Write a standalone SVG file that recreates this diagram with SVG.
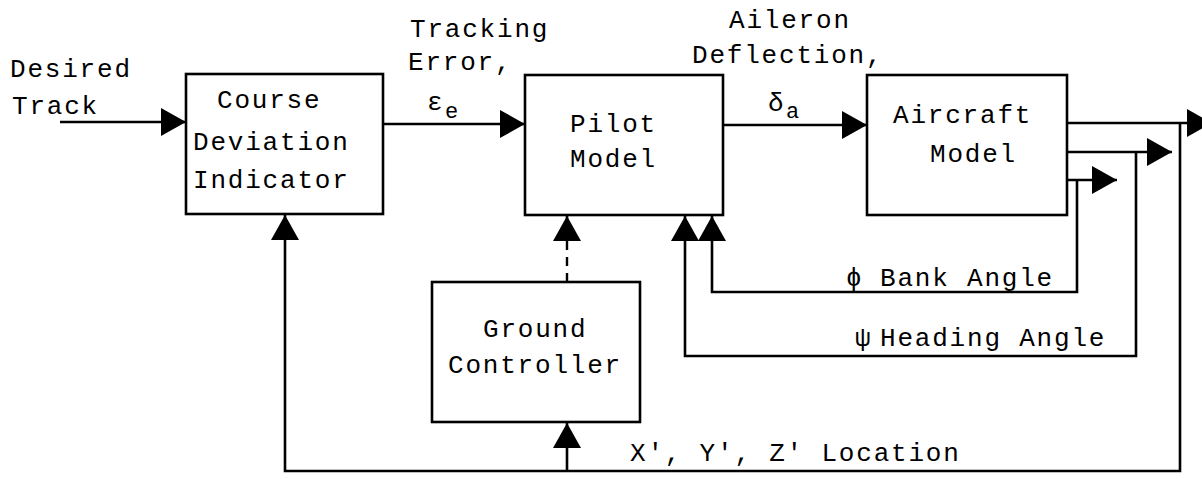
<svg xmlns="http://www.w3.org/2000/svg" width="1202" height="479" viewBox="0 0 1202 479">
<style>
.box{fill:#fff;stroke:#000;stroke-width:2.6}
.ln{fill:none;stroke:#000;stroke-width:2.6}
.dash{fill:none;stroke:#000;stroke-width:2.4;stroke-dasharray:9 7}
text{font-family:"Liberation Mono","DejaVu Sans Mono",monospace;font-size:26px;letter-spacing:1.8px;fill:#000}
.sub{font-size:22px;letter-spacing:0}
</style>
<defs>
<marker id="ah" viewBox="0 0 25 28" refX="25" refY="14" markerWidth="25" markerHeight="28" markerUnits="userSpaceOnUse" orient="auto">
<path d="M0,0 L25,14 L0,28 Z" fill="#000"/>
</marker>
</defs>
<g id="connectors">
<line class="ln" x1="60" y1="122" x2="186" y2="122" marker-end="url(#ah)"/>
<line class="ln" x1="383" y1="124" x2="525" y2="124" marker-end="url(#ah)"/>
<line class="ln" x1="723" y1="125" x2="867" y2="125" marker-end="url(#ah)"/>
<line class="ln" x1="1067" y1="123" x2="1212" y2="123" marker-end="url(#ah)"/>
<line class="ln" x1="1067" y1="152" x2="1172" y2="152" marker-end="url(#ah)"/>
<line class="ln" x1="1067" y1="180" x2="1117" y2="180" marker-end="url(#ah)"/>
<polyline class="ln" points="1077,180 1077,292 712,292 712,216" marker-end="url(#ah)"/>
<polyline class="ln" points="1136,152 1136,356 685,356 685,216" marker-end="url(#ah)"/>
<polyline class="ln" points="1180,123 1180,471 285,471 285,215" marker-end="url(#ah)"/>
<line class="ln" x1="567" y1="471" x2="567" y2="423" marker-end="url(#ah)"/>
<line class="dash" x1="567" y1="282" x2="567" y2="240"/>
<line class="ln" x1="567" y1="240" x2="567" y2="216" marker-end="url(#ah)"/>
</g>
<g id="label-desired">
<text x="10" y="77">Desired</text>
<text x="12" y="114">Track</text>
</g>
<g id="label-tracking">
<text x="410" y="37">Tracking</text>
<text x="408" y="70">Error,</text>
<text x="427" y="110" letter-spacing="0">ε</text>
<text class="sub" x="445" y="118">e</text>
</g>
<g id="label-aileron">
<text x="729" y="28">Aileron</text>
<text x="692" y="63">Deflection,</text>
<text x="768" y="111" letter-spacing="0">δ</text>
<text class="sub" x="786" y="118">a</text>
</g>
<g id="node-cdi">
<rect class="box" x="186" y="74" width="197" height="140"/>
<text x="217" y="108">Course</text>
<text x="193" y="150">Deviation</text>
<text x="193" y="188">Indicator</text>
</g>
<g id="node-pilot">
<rect class="box" x="525" y="75" width="198" height="140"/>
<text x="570" y="132">Pilot</text>
<text x="570" y="167">Model</text>
</g>
<g id="node-aircraft">
<rect class="box" x="867" y="75" width="200" height="140"/>
<text x="893" y="123">Aircraft</text>
<text x="930" y="162">Model</text>
</g>
<g id="node-ground">
<rect class="box" x="432" y="282" width="208" height="140"/>
<text x="483" y="337">Ground</text>
<text x="448" y="373">Controller</text>
</g>
<g id="label-bank">
<text y="286"><tspan x="846">ϕ</tspan><tspan x="880">Bank Angle</tspan></text>
</g>
<g id="label-heading">
<text y="346"><tspan x="855">ψ</tspan><tspan x="880">Heading Angle</tspan></text>
</g>
<g id="label-location">
<text x="630" y="461">X', Y', Z' Location</text>
</g>
</svg>
